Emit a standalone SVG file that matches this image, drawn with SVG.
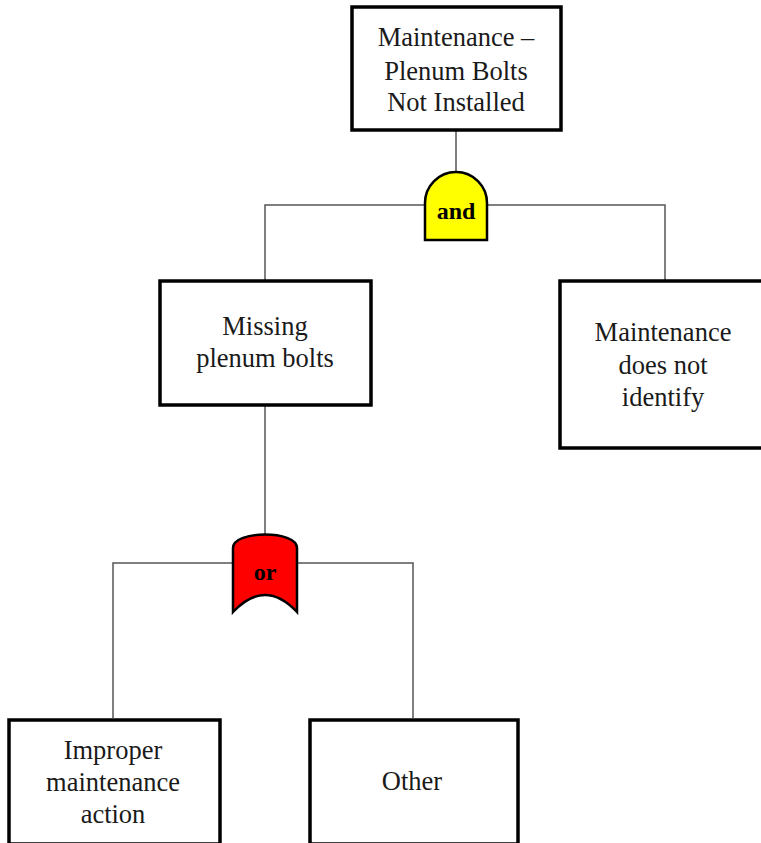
<svg xmlns="http://www.w3.org/2000/svg" width="761" height="843" viewBox="0 0 761 843">
  <style>
    .box { fill: #ffffff; stroke: #000000; stroke-width: 3.5; }
    .lbl { font-family: "Liberation Serif", "DejaVu Serif", "Times New Roman", serif; font-size: 26.5px; fill: #1a1a1a; text-anchor: middle; }
    .gate-lbl { font-family: "Liberation Serif", "DejaVu Serif", "Times New Roman", serif; font-size: 24px; font-weight: bold; fill: #000000; text-anchor: middle; }
    .wire { fill: none; stroke: #555555; stroke-width: 1.5; }
    .gate { stroke: #000000; stroke-width: 2.5; }
  </style>
  <rect width="761" height="843" fill="#ffffff"/>

  <!-- connectors -->
  <g id="connectors">
    <path class="wire" d="M456,130 V174"/>
    <path class="wire" d="M265,280 V205 H665 V280"/>
    <path class="wire" d="M265,405 V537"/>
    <path class="wire" d="M113,718 V563 H413 V718"/>
  </g>

  <!-- top event -->
  <g id="top-event">
    <rect class="box" x="352" y="7" width="209" height="123"/>
    <text class="lbl" x="456" y="46">Maintenance  –</text>
    <text class="lbl" x="456" y="80">Plenum Bolts</text>
    <text class="lbl" x="456" y="111">Not Installed</text>
  </g>

  <!-- AND gate -->
  <g id="and-gate">
    <path class="gate" fill="#ffff00" d="M425,240 V203 A31,31 0 0 1 487,203 V240 Z"/>
    <text class="gate-lbl" x="456" y="219">and</text>
  </g>

  <g id="missing-bolts">
    <rect class="box" x="160" y="281" width="211" height="124"/>
    <text class="lbl" x="265" y="335">Missing</text>
    <text class="lbl" x="265" y="367">plenum bolts</text>
  </g>

  <g id="not-identify">
    <rect class="box" x="560" y="281" width="205" height="167"/>
    <text class="lbl" x="663" y="341">Maintenance</text>
    <text class="lbl" x="663" y="374">does not</text>
    <text class="lbl" x="663" y="406">identify</text>
  </g>

  <!-- OR gate -->
  <g id="or-gate">
    <path class="gate" fill="#ff0000" d="M233,548 C233,530 297,530 297,548 V612 Q265,578 233,612 Z"/>
    <text class="gate-lbl" x="265" y="580">or</text>
  </g>

  <g id="improper-action">
    <rect class="box" x="9" y="720" width="211" height="124"/>
    <text class="lbl" x="113" y="759">Improper</text>
    <text class="lbl" x="113" y="791">maintenance</text>
    <text class="lbl" x="113" y="823">action</text>
  </g>

  <g id="other">
    <rect class="box" x="310" y="720" width="208" height="124"/>
    <text class="lbl" x="412" y="790">Other</text>
  </g>
</svg>
